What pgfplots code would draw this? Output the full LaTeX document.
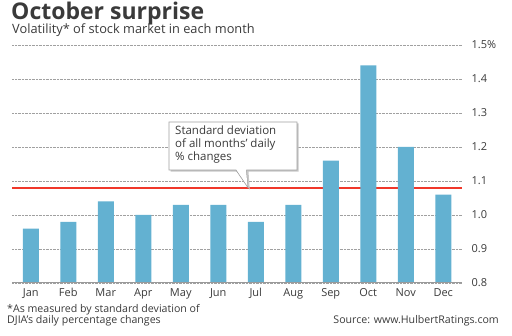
\documentclass[border=0pt]{standalone}
\usepackage{pgfplots}
\pgfplotsset{compat=1.18}
\usepackage{fontspec}
\setmainfont{Open Sans}
\definecolor{barblue}{HTML}{63B1D1}
\definecolor{txt}{HTML}{3A3A3A}
\definecolor{gridc}{HTML}{A0A0A0}
\definecolor{baseg}{HTML}{9A9A9A}
\definecolor{refred}{RGB}{240,55,42}
\begin{document}
\begin{tikzpicture}[x=1pt,y=1pt]
\path[use as bounding box] (0,0) rectangle (512,336);
\begin{axis}[
  at={(12pt,53pt)}, anchor=south west,
  scale only axis, width=450pt, height=238pt,
  xmin=-0.5, xmax=11.5, ymin=0.8, ymax=1.5,
  axis line style={draw=none},
  xtick={0,...,11},
  xticklabels={Jan,Feb,Mar,Apr,May,Jun,Jul,Aug,Sep,Oct,Nov,Dec},
  xtick style={draw=none},
  xticklabel style={font=\fontsize{11}{12}\selectfont, text=txt, yshift=-2pt},
  ytick={0.8,0.9,1.0,1.1,1.2,1.3,1.4,1.5},
  yticklabels={0.8,0.9,1.0,1.1,1.2,1.3,1.4,1.5\%},
  yticklabel pos=right,
  ytick style={draw=none},
  yticklabel style={font=\fontsize{11}{12}\selectfont, text=txt, anchor=west, xshift=6pt},
  ymajorgrids,
  major grid style={densely dotted, gridc, line width=0.6pt},
  extra y ticks={1.08},
  extra y tick labels={},
  extra y tick style={grid=major, major grid style={solid, draw=refred, line width=1.8pt}},
]
\addplot[ybar, bar width=16pt, fill=barblue, draw=none, bar shift=0pt] coordinates {
(0,0.96) (1,0.98) (2,1.04) (3,1.00) (4,1.03) (5,1.03)
(6,0.98) (7,1.03) (8,1.16) (9,1.44) (10,1.20) (11,1.06)};
\addplot[sharp plot, draw=baseg, line width=1.2pt, mark=none, forget plot] coordinates {(-0.5,0.8) (11.5,0.8)};
\end{axis}
% annotation callout (fills only)
\fill[black!22] (170.5,164.3) -- (237.5,164.3) -- (249.8,146.3) -- (248.5,164.3) -- (298.7,164.3) -- (298.7,212.5) -- (170.5,212.5) -- cycle;
\fill[gray!75] (168.6,165.6) -- (235.8,165.6) -- (248.3,147.3) -- (246.6,165.6) -- (297.4,165.6) -- (297.4,214.4) -- (168.6,214.4) -- cycle;
\fill[white] (169.3,166.3) -- (236.3,166.3) -- (247.5,149.8) -- (246.0,166.3) -- (296.7,166.3) -- (296.7,213.7) -- (169.3,213.7) -- cycle;
\node[anchor=north west, align=left, inner sep=0, text=txt, font=\fontsize{11.5}{13}\selectfont] at (175,210.5) {Standard deviation\\of all months' daily\\\% changes};
% titles
\node[anchor=base west, inner sep=0, text=txt, font=\bfseries\fontsize{23}{25}\selectfont] at (11,316) {October surprise};
\node[anchor=base west, inner sep=0, text=txt, font=\fontsize{12.8}{14}\selectfont] at (12,302) {Volatility* of stock market in each month};
% footnotes
\node[anchor=base west, inner sep=0, text=txt, font=\fontsize{10.6}{12}\selectfont] at (7,23) {*As measured by standard deviation of};
\node[anchor=base west, inner sep=0, text=txt, font=\fontsize{10.6}{12}\selectfont] at (7,12) {DJIA's daily percentage changes};
\node[anchor=base east, inner sep=0, text=txt, font=\fontsize{10.6}{12}\selectfont] at (499,12) {Source: www.HulbertRatings.com};
\end{tikzpicture}
\end{document}
